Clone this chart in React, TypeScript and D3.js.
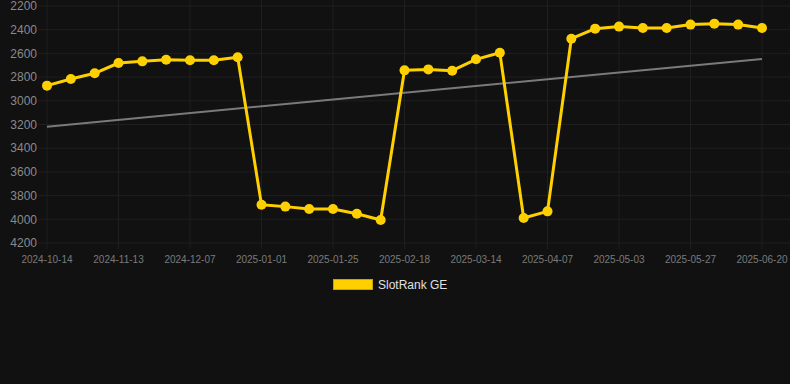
import React from "react";
import * as d3 from "d3";

const dates = [
  "2024-10-14", "2024-10-24", "2024-11-03", "2024-11-13", "2024-11-21", "2024-11-29",
  "2024-12-07", "2024-12-15", "2024-12-23", "2025-01-01", "2025-01-09", "2025-01-17",
  "2025-01-25", "2025-02-02", "2025-02-10", "2025-02-18", "2025-02-26", "2025-03-06",
  "2025-03-14", "2025-03-22", "2025-03-30", "2025-04-07", "2025-04-15", "2025-04-24",
  "2025-05-03", "2025-05-11", "2025-05-19", "2025-05-27", "2025-06-04", "2025-06-12",
  "2025-06-20",
];
const ranks = [
  2872, 2816, 2768, 2681, 2667, 2653, 2658, 2658, 2633,
  3877, 3893, 3913, 3913, 3953, 4006,
  2743, 2735, 2746, 2650, 2594,
  3989, 3933,
  2476, 2391, 2374, 2386, 2386, 2357, 2349, 2357, 2386,
];
const trendEnds = [3218, 2647];
const yTicks = [2200, 2400, 2600, 2800, 3000, 3200, 3400, 3600, 3800, 4000, 4200];
const seriesName = "SlotRank GE";

const W = 790;
const H = 384;

export default function App() {
  const x = d3.scalePoint<string>().domain(dates).range([47, 762]);
  const y = d3.scaleLinear().domain([2200, 4200]).range([6, 243]);
  const xLabels = dates.filter((_, i) => i % 3 === 0);
  const line = d3
    .line<number>()
    .x((_, i) => x(dates[i]) as number)
    .y((d) => y(d));
  const yellow = "#ffd000";
  const grid = "#1f1f1f";
  return (
    <div style={{ position: "fixed", left: 0, top: 0, width: W, height: H }}>
      <svg width={W} height={H} style={{ display: "block", fontFamily: "Liberation Sans, Arial, sans-serif" }}>
        <rect width={W} height={H} fill="#111111" />
        {yTicks.map((t) => (
          <g key={t}>
            <line x1={38} x2={W} y1={y(t)} y2={y(t)} stroke={grid} strokeWidth={1} />
            <text x={37} y={y(t)} dy="0.35em" textAnchor="end" fontSize={12} fill="#8a8a8a">
              {t}
            </text>
          </g>
        ))}
        {xLabels.map((d) => (
          <g key={d}>
            <line x1={x(d)} x2={x(d)} y1={0} y2={249} stroke={grid} strokeWidth={1} />
            <text x={x(d)} y={259} dy="0.35em" textAnchor="middle" fontSize={10} fill="#7a7a7a">
              {d}
            </text>
          </g>
        ))}
        <line
          x1={x(dates[0])}
          x2={x(dates[dates.length - 1])}
          y1={y(trendEnds[0])}
          y2={y(trendEnds[1])}
          stroke="#7a7a7a"
          strokeWidth={2}
        />
        <path d={line(ranks) || ""} fill="none" stroke={yellow} strokeWidth={3} strokeLinejoin="round" />
        {ranks.map((v, i) => (
          <circle key={i} cx={x(dates[i])} cy={y(v)} r={5} fill={yellow} />
        ))}
        <rect x={333.5} y={279.5} width={39} height={10} fill={yellow} stroke="#c9a400" strokeWidth={1} />
        <text x={378} y={285} dy="0.35em" fontSize={12} fill="#e0e0e0">
          {seriesName}
        </text>
      </svg>
    </div>
  );
}
